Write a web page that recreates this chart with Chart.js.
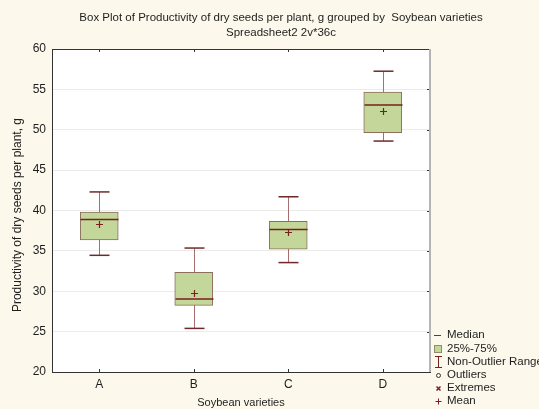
<!DOCTYPE html>
<html>
<head>
<meta charset="utf-8">
<script src="https://cdn.jsdelivr.net/npm/chart.js@4.4.1/dist/chart.umd.min.js"></script>
<style>
  html, body { margin: 0; padding: 0; background: #fdf8ec; }
  #wrap { width: 539px; height: 409px; position: relative; }
</style>
</head>
<body>
<div id="wrap"><canvas id="boxChart" width="539" height="409"></canvas></div>
<script>
// data
const varieties = ['A', 'B', 'C', 'D'];
const whiskerMin = [34.45, 25.4, 33.55, 48.6];
const quart1 = [36.35, 28.25, 35.2, 49.65];
const medians = [38.9, 29.05, 37.65, 53.05];
const quart3 = [39.8, 32.35, 38.65, 54.65];
const whiskerMax = [42.3, 35.35, 41.7, 57.25];
const means = [38.3, 29.75, 37.3, 52.35];
const yTicks = [20, 25, 30, 35, 40, 45, 50, 55, 60];

const FONT = "'Liberation Sans', Arial, sans-serif";
const DARK_RED = '#7a1f1f';

const boxDecor = {
    id: 'boxDecor',
    beforeDraw(chart) {
        const ctx = chart.ctx, a = chart.chartArea;
        ctx.save();
        ctx.fillStyle = '#fdf8ec';
        ctx.fillRect(0, 0, chart.width, chart.height);
        ctx.fillStyle = '#ffffff';
        ctx.fillRect(a.left, a.top, a.right - a.left, a.bottom - a.top);
        ctx.restore();
    },
    beforeDatasetsDraw(chart) {
        // whiskers go behind the boxes
        const ctx = chart.ctx, xs = chart.scales.x, ys = chart.scales.y;
        ctx.save();
        varieties.forEach((v, i) => {
            const x = Math.round(xs.getPixelForValue(i)) + 0.5;
            ctx.strokeStyle = '#a86e6e';
            ctx.lineWidth = 1;
            ctx.beginPath();
            ctx.moveTo(x, ys.getPixelForValue(whiskerMin[i]));
            ctx.lineTo(x, ys.getPixelForValue(whiskerMax[i]));
            ctx.stroke();
            ctx.strokeStyle = '#6e2a2a';
            ctx.lineWidth = 1.5;
            [whiskerMin[i], whiskerMax[i]].forEach(val => {
                const y = ys.getPixelForValue(val);
                ctx.beginPath();
                ctx.moveTo(x - 10, y);
                ctx.lineTo(x + 10, y);
                ctx.stroke();
            });
        });
        ctx.restore();
    },
    afterDatasetsDraw(chart) {
        const ctx = chart.ctx, xs = chart.scales.x, ys = chart.scales.y, a = chart.chartArea;
        ctx.save();
        varieties.forEach((v, i) => {
            const x = Math.round(xs.getPixelForValue(i)) + 0.5;
            // median
            ctx.strokeStyle = DARK_RED;
            ctx.lineWidth = 1.5;
            const ym = ys.getPixelForValue(medians[i]);
            ctx.beginPath();
            ctx.moveTo(x - 19, ym);
            ctx.lineTo(x + 19, ym);
            ctx.stroke();
            // mean
            const yk = Math.round(ys.getPixelForValue(means[i])) + 0.5;
            ctx.lineWidth = 1.2;
            ctx.beginPath();
            ctx.moveTo(x - 3.5, yk); ctx.lineTo(x + 3.5, yk);
            ctx.moveTo(x, yk - 3.5); ctx.lineTo(x, yk + 3.5);
            ctx.stroke();
            // inward category ticks top and bottom
            ctx.strokeStyle = '#333';
            ctx.lineWidth = 1;
            ctx.beginPath();
            ctx.moveTo(x, a.top); ctx.lineTo(x, a.top + 3);
            ctx.moveTo(x, a.bottom); ctx.lineTo(x, a.bottom - 3);
            ctx.stroke();
        });
        // frame: top dark, right grey
        ctx.strokeStyle = '#333';
        ctx.lineWidth = 1;
        ctx.beginPath();
        ctx.moveTo(a.left, a.top + 0.5);
        ctx.lineTo(a.right, a.top + 0.5);
        ctx.stroke();
        ctx.strokeStyle = '#b4b4b4';
        ctx.lineWidth = 2;
        ctx.beginPath();
        ctx.moveTo(a.right, a.top);
        ctx.lineTo(a.right, a.bottom);
        ctx.stroke();
        // inward ticks on right edge
        ctx.strokeStyle = '#333';
        ctx.lineWidth = 1;
        yTicks.forEach(t => {
            const y = Math.round(ys.getPixelForValue(t)) + 0.5;
            ctx.beginPath();
            ctx.moveTo(a.right - 3, y);
            ctx.lineTo(a.right - 1, y);
            ctx.stroke();
        });
        ctx.restore();
    },
    afterDraw(chart) {
        const ctx = chart.ctx, a = chart.chartArea;
        ctx.save();
        ctx.fillStyle = '#1e1e1e';
        ctx.font = '11.5px ' + FONT;
        ctx.textAlign = 'center';
        ctx.textBaseline = 'middle';
        ctx.fillText('Box Plot of Productivity of dry seeds per plant, g grouped by  Soybean varieties', 281, 18);
        ctx.fillText('Spreadsheet2 2v*36c', 281, 33);
        ctx.font = '11px ' + FONT;
        ctx.fillText('Soybean varieties', (a.left + a.right) / 2, 403);
        ctx.font = '12px ' + FONT;
        ctx.save();
        ctx.translate(18, 215);
        ctx.rotate(-Math.PI / 2);
        ctx.fillText('Productivity of dry seeds per plant, g', 0, 0);
        ctx.restore();

        // legend
        const tx = 447;
        const rows = [
            ['Median', 335], ['25%-75%', 349], ['Non-Outlier Range', 362],
            ['Outliers', 375], ['Extremes', 388], ['Mean', 401]
        ];
        ctx.font = '11.5px ' + FONT;
        ctx.textAlign = 'left';
        rows.forEach(r => ctx.fillText(r[0], tx, r[1]));
        ctx.strokeStyle = '#444';
        ctx.lineWidth = 1;
        ctx.beginPath();
        ctx.moveTo(434, 335.5); ctx.lineTo(441, 335.5);
        ctx.stroke();
        ctx.fillStyle = '#c4d79b';
        ctx.fillRect(434, 345, 8, 8);
        ctx.strokeStyle = '#8c8c6e';
        ctx.strokeRect(434.5, 345.5, 7, 7);
        ctx.strokeStyle = DARK_RED;
        ctx.beginPath();
        ctx.moveTo(435, 356.5); ctx.lineTo(442, 356.5);
        ctx.moveTo(438.5, 356.5); ctx.lineTo(438.5, 367.5);
        ctx.moveTo(435, 367.5); ctx.lineTo(442, 367.5);
        ctx.stroke();
        ctx.strokeStyle = '#333';
        ctx.beginPath();
        ctx.arc(438.5, 375.5, 2, 0, Math.PI * 2);
        ctx.stroke();
        ctx.strokeStyle = DARK_RED;
        ctx.lineWidth = 1.5;
        ctx.beginPath();
        ctx.moveTo(436.5, 386.5); ctx.lineTo(440.5, 390.5);
        ctx.moveTo(440.5, 386.5); ctx.lineTo(436.5, 390.5);
        ctx.stroke();
        ctx.lineWidth = 1;
        ctx.beginPath();
        ctx.moveTo(435.5, 401.5); ctx.lineTo(441.5, 401.5);
        ctx.moveTo(438.5, 398.5); ctx.lineTo(438.5, 404.5);
        ctx.stroke();
        ctx.restore();
    }
};

new Chart(document.getElementById('boxChart'), {
    type: 'bar',
    data: {
        labels: varieties,
        datasets: [{
            label: '25%-75%',
            data: quart1.map((q, i) => [q, quart3[i]]),
            backgroundColor: '#c4d79b',
            borderColor: '#8c6e5a',
            borderWidth: 1,
            borderSkipped: false,
            barThickness: 38
        }]
    },
    options: {
        responsive: false,
        animation: false,
        events: [],
        layout: { padding: { top: 49, right: 109, left: 0, bottom: 0 } },
        plugins: { legend: { display: false }, tooltip: { enabled: false }, title: { display: false } },
        scales: {
            x: {
                grid: { display: false, drawTicks: false },
                border: { color: '#333', width: 1 },
                ticks: { color: '#1e1e1e', font: { family: FONT, size: 12 }, padding: 5 },
                afterFit(scale) { scale.height = 37; }
            },
            y: {
                min: 20,
                max: 60,
                afterBuildTicks(scale) { scale.ticks = yTicks.map(v => ({ value: v })); },
                grid: { color: '#ebebeb', drawTicks: false },
                border: { color: '#333', width: 1 },
                ticks: { color: '#1e1e1e', font: { family: FONT, size: 12 }, padding: 6 },
                afterFit(scale) { scale.width = 52; }
            }
        }
    },
    plugins: [boxDecor]
});
</script>
</body>
</html>
